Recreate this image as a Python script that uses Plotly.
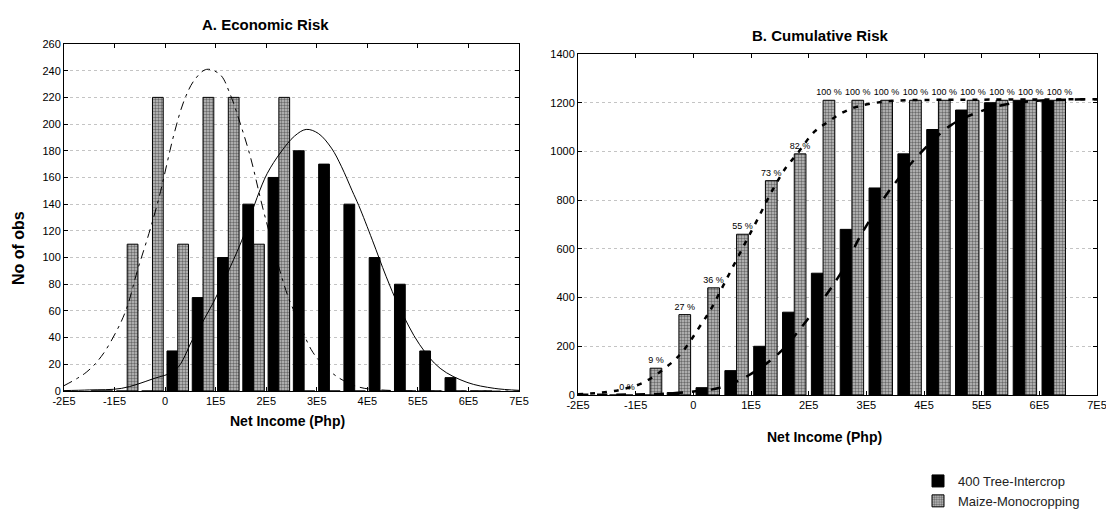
import plotly.graph_objects as go

# ---------------- data ----------------
# histogram bin centres (net income, Php)
bins = [-125000, -75000, -25000, 25000, 75000, 125000, 175000, 225000, 275000,
        325000, 375000, 425000, 475000, 525000, 575000, 625000]

# A. Economic risk: number of observations per bin
intercrop_obs = [0, 0, 0, 30, 70, 100, 140, 160, 180, 170, 140, 100, 80, 30, 10, 0]
maize_obs = [0, 110, 220, 110, 220, 220, 110, 220, 0, 0, 0, 0, 0, 0, 0, 0]

# fitted normal curves (x, expected obs)
maize_fit_x = [-200000, -156000, -126000, -96000, -76000, -55000, -32000, -12000, 18000,
               38000, 58000, 82000, 109000, 129000, 149000, 169000, 196000, 242000,
               262000, 289000, 309000, 343000, 383000, 420000, 500000, 700000]
maize_fit_y = [4, 14, 26, 45, 62, 90, 118, 145, 193, 218, 233, 241, 237, 222, 200, 175,
               133, 72, 54, 31, 21, 10, 3, 1, 0, 0]
inter_fit_x = [-200000, -150000, -86000, -25000, 21000, 55000, 95000, 129000, 155000,
               182000, 202000, 229000, 256000, 279000, 303000, 329000, 349000, 370000,
               383000, 410000, 437000, 463000, 503000, 544000, 597000, 651000, 700000]
inter_fit_y = [0.3, 0.8, 2, 9, 16, 39, 66, 93, 116, 145, 163, 179, 191, 196, 193, 182,
               168, 150, 139, 113, 86, 63, 35, 17, 6.5, 2, 0.5]

# B. Cumulative risk: cumulative observations per bin
intercrop_cum = [0, 0, 10, 30, 100, 200, 340, 500, 680, 850, 990, 1090, 1170, 1200, 1210, 1210]
maize_cum = [0, 110, 330, 440, 660, 880, 990, 1210, 1210, 1210, 1210, 1210, 1210, 1210, 1210, 1210]
maize_pct = ["0 %", "9 %", "27 %", "36 %", "55 %", "73 %", "82 %", "100 %", "100 %",
             "100 %", "100 %", "100 %", "100 %", "100 %", "100 %", "100 %"]

# fitted cumulative curves
maize_cfit_x = [-200000, -150000, -120000, -85000, -39000, -18000, 15000, 30000, 52000,
                64000, 88000, 110000, 137000, 161000, 180000, 210000, 234000, 256000,
                283000, 326000, 368000, 450000, 700000]
maize_cfit_y = [3, 12, 25, 53, 130, 180, 295, 350, 450, 505, 615, 715, 840, 935, 990,
                1081, 1122, 1156, 1183, 1203, 1210, 1212, 1214]
inter_cfit_x = [-200000, -100000, -50000, 0, 46000, 94000, 149000, 198000, 253000,
                295000, 344000, 399000, 447000, 496000, 551000, 612000, 700000]
inter_cfit_y = [1, 2, 5, 14, 30, 78, 173, 310, 490, 675, 852, 1006, 1108, 1163, 1197,
                1210, 1214]

# axis ticks
x_tickvals = [-200000, -100000, 0, 100000, 200000, 300000, 400000, 500000, 600000, 700000]
x_ticktext = ["-2E5", "-1E5", "0", "1E5", "2E5", "3E5", "4E5", "5E5", "6E5", "7E5"]

# ---------------- figure ----------------
W, H = 1106, 511
BAR_A = 21300   # bar width in panel A (Php)
BAR_B = 20300   # bar width in panel B (Php)

grey_pattern = dict(shape=".", size=3, solidity=0.5, fgcolor="#141414", bgcolor="#c2c2c2")
font_family = "Arial, Liberation Sans, sans-serif"

fig = go.Figure()

# panel A bars
fig.add_trace(go.Bar(x=bins, y=intercrop_obs, width=BAR_A, offset=-BAR_A,
                     marker=dict(color="black", line=dict(color="black", width=1)),
                     name="400 Tree-Intercrop", legendrank=1,
                     xaxis="x", yaxis="y"))
fig.add_trace(go.Bar(x=bins, y=maize_obs, width=BAR_A, offset=0,
                     marker=dict(color="#c2c2c2", pattern=grey_pattern,
                                 line=dict(color="black", width=1)),
                     name="Maize-Monocropping", legendrank=2,
                     xaxis="x", yaxis="y"))
fig.add_trace(go.Scatter(x=maize_fit_x, y=maize_fit_y, mode="lines", line_shape="spline",
                         line=dict(color="black", width=1, dash="9px,5px,3px,5px"),
                         showlegend=False, xaxis="x", yaxis="y"))
fig.add_trace(go.Scatter(x=inter_fit_x, y=inter_fit_y, mode="lines", line_shape="spline",
                         line=dict(color="black", width=1),
                         showlegend=False, xaxis="x", yaxis="y"))

# panel B bars
fig.add_trace(go.Bar(x=bins, y=intercrop_cum, width=BAR_B, offset=-BAR_B,
                     marker=dict(color="black", line=dict(color="black", width=1)),
                     showlegend=False, xaxis="x2", yaxis="y2"))
fig.add_trace(go.Bar(x=bins, y=maize_cum, width=BAR_B, offset=0,
                     marker=dict(color="#c2c2c2", pattern=grey_pattern,
                                 line=dict(color="black", width=1)),
                     text=maize_pct, textposition="outside", constraintext="none",
                     cliponaxis=False,
                     textfont=dict(size=9, color="black", family=font_family),
                     showlegend=False, xaxis="x2", yaxis="y2"))
fig.add_trace(go.Scatter(x=maize_cfit_x, y=maize_cfit_y, mode="lines", line_shape="spline",
                         line=dict(color="black", width=2.5, dash="5px,7px"),
                         showlegend=False, xaxis="x2", yaxis="y2"))
fig.add_trace(go.Scatter(x=inter_cfit_x, y=inter_cfit_y, mode="lines", line_shape="spline",
                         line=dict(color="black", width=2.5, dash="10px,9px"),
                         showlegend=False, xaxis="x2", yaxis="y2"))

axis_common = dict(showline=True, linecolor="black", linewidth=1, mirror="ticks",
                   ticks="inside", ticklen=4, tickcolor="black", zeroline=False,
                   automargin=False, ticklabeloverflow="allow",
                   tickfont=dict(size=11, color="black", family=font_family))
x_common = dict(axis_common, range=[-200000, 700000], tickvals=x_tickvals,
                ticktext=x_ticktext, showgrid=False)
y_common = dict(axis_common, showgrid=True, gridcolor="#c4c4c4", griddash="dot",
                gridwidth=1)

def px(v):
    return v / W

def py(v):
    return 1 - v / H

def label(text, x, y, size, angle=0):
    return dict(text=text, x=px(x), y=py(y), xref="paper", yref="paper",
                xanchor="center", yanchor="middle", showarrow=False,
                textangle=angle, font=dict(size=size))

fig.update_layout(
    width=W, height=H,
    margin=dict(l=0, r=0, t=0, b=0, autoexpand=False),
    paper_bgcolor="white", plot_bgcolor="white",
    barmode="overlay",
    font=dict(family=font_family, color="black"),
    xaxis=dict(x_common, domain=[px(64), px(519)], anchor="y"),
    yaxis=dict(y_common, domain=[py(391), py(44)], anchor="x",
               range=[0, 260], tickvals=list(range(0, 261, 20))),
    xaxis2=dict(x_common, domain=[px(578), px(1097)], anchor="y2"),
    yaxis2=dict(y_common, domain=[py(395), py(54)], anchor="x2",
                range=[0, 1400], tickvals=list(range(0, 1401, 200))),
    legend=dict(x=px(918), y=py(466), xanchor="left", yanchor="top",
                font=dict(size=13, color="#222222", family=font_family),
                bgcolor="rgba(0,0,0,0)", tracegroupgap=0, itemwidth=30),
    annotations=[
        label("<b>A. Economic Risk</b>", 265, 25, 15),
        label("<b>B. Cumulative Risk</b>", 820, 35, 15),
        label("<b>Net Income (Php)</b>", 287, 421, 14),
        label("<b>Net Income (Php)</b>", 824, 437, 14),
        label("<b>No of obs</b>", 18, 248, 16, angle=-90),
    ],
)

fig.write_html("out.html")
